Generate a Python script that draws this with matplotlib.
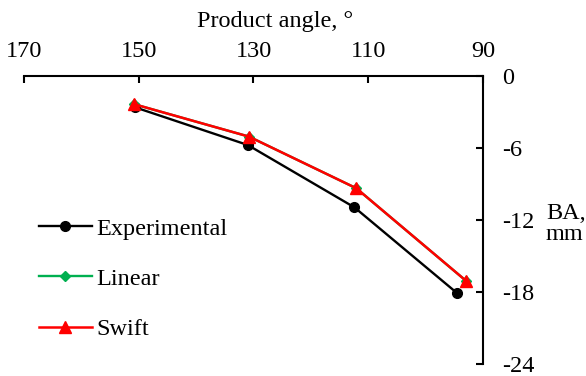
import matplotlib
matplotlib.use("Agg")
import matplotlib.pyplot as plt

plt.rcParams['font.family'] = ['Liberation Serif', 'DejaVu Serif']

# Product angle (deg) and BA (mm)
exp_angle = [150.7, 131.0, 112.4, 94.5]
exp_ba = [-2.6, -5.75, -10.95, -18.1]

lin_angle = [150.8, 130.8, 112.1, 93.0]
lin_ba = [-2.35, -5.05, -9.35, -17.05]

swift_angle = [150.8, 130.8, 112.1, 93.0]
swift_ba = [-2.35, -5.05, -9.35, -17.05]

x_ticks = [170, 150, 130, 110, 90]
y_ticks = [0, -6, -12, -18, -24]

FS = 17.5
W, H = 586, 376
fig = plt.figure(figsize=(W / 100, H / 100), dpi=100)
ax = fig.add_axes([24 / W, 1 - 364 / H, (483 - 24) / W, (364 - 76) / H])

ax.plot(exp_angle, exp_ba, color='black', lw=1.7, marker='o', ms=7,
        label='Experimental', zorder=3)
ax.plot(lin_angle, lin_ba, color='#00B050', lw=1.7, marker='D', ms=5,
        label='Linear', zorder=4)
ax.plot(swift_angle, swift_ba, color='#FF0000', lw=1.8, marker='^', ms=8,
        label='Swift', zorder=5)

ax.set_xlim(170, 90)
ax.set_ylim(-24, 0)
ax.set_xticks(x_ticks)
ax.set_yticks(y_ticks)
ax.set_xticklabels([str(v) for v in x_ticks])
ax.set_yticklabels([str(v) for v in y_ticks])

ax.spines['left'].set_visible(False)
ax.spines['bottom'].set_visible(False)
for s in ('top', 'right'):
    ax.spines[s].set_linewidth(1.5)

ax.xaxis.tick_top()
ax.yaxis.tick_right()
ax.tick_params(axis='x', direction='in', length=5, width=1.5, pad=10,
               labelsize=FS, top=True, bottom=False)
ax.tick_params(axis='y', direction='in', length=5, width=1.5, pad=14,
               labelsize=FS, right=True, left=False)
for lbl in ax.get_yticklabels():
    lbl.set_horizontalalignment('left')

fig.text(275 / W, 1 - 21 / H, 'Product angle, °', ha='center', va='center',
         fontsize=FS)
fig.text(546 / W, 1 - 224 / H, 'BA,\nmm', ha='left', va='center',
         fontsize=FS, linespacing=1.0)

leg = ax.legend(loc='upper left', bbox_to_anchor=(29 / W, 1 - 208 / H),
                bbox_transform=fig.transFigure, frameon=False,
                fontsize=FS, handlelength=2.18, handletextpad=0.2,
                labelspacing=1.16, borderaxespad=0, markerscale=1.0)

fig.savefig('out.png', dpi=100)
